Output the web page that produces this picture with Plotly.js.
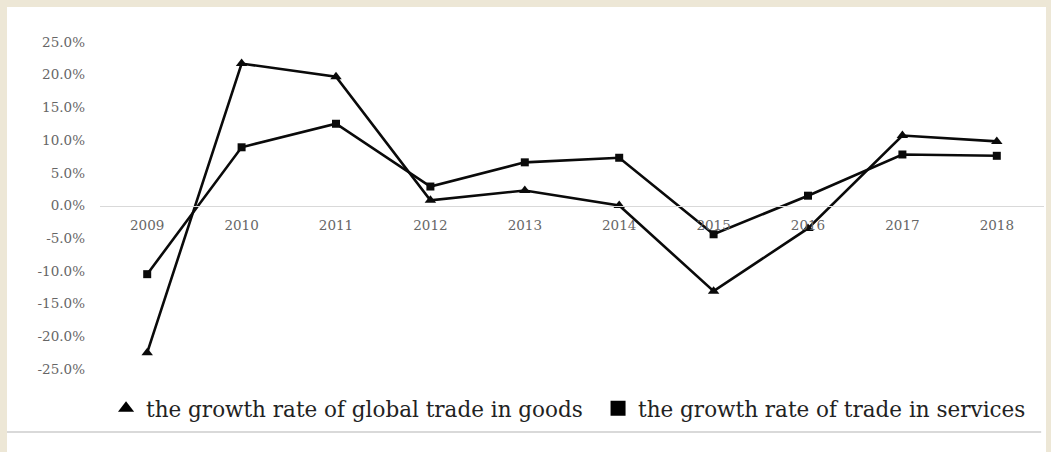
<!DOCTYPE html>
<html>
<head>
<meta charset="utf-8">
<script src="https://cdn.plot.ly/plotly-3.0.1.min.js"></script>
<style>
  html, body { margin: 0; padding: 0; background: #ede7d6; width: 1051px; height: 452px; overflow: hidden; }
  #chart { position: absolute; left: 7px; top: 7px; width: 1039px; height: 445px; background: #fff; }
</style>
</head>
<body>
<div id="chart"></div>
<script>
const years = ['2009','2010','2011','2012','2013','2014','2015','2016','2017','2018'];
const goodsGrowth = [-22.5, 21.7, 19.7, 0.8, 2.3, 0.0, -13.1, -3.5, 10.7, 9.8];
const servicesGrowth = [-10.5, 8.9, 12.5, 2.9, 6.6, 7.3, -4.4, 1.5, 7.8, 7.6];
const goodsName = 'the growth rate of global trade in goods';
const servicesName = 'the growth rate of trade in services';
const yTicks = [25, 20, 15, 10, 5, 0, -5, -10, -15, -20, -25];

const traces = [
  { x: years, y: goodsGrowth, mode: 'lines+markers', name: goodsName, showlegend: false,
    line: { color: '#0a0a0a', width: 2.6 }, marker: { symbol: 'triangle-up', size: 10, color: '#0a0a0a' } },
  { x: years, y: servicesGrowth, mode: 'lines+markers', name: servicesName, showlegend: false,
    line: { color: '#0a0a0a', width: 2.6 }, marker: { symbol: 'square', size: 8, color: '#0a0a0a' } },
  { x: [null], y: [null], mode: 'markers', name: goodsName, showlegend: true, legend: 'legend',
    marker: { symbol: 'triangle-up', size: 14, color: '#000' } },
  { x: [null], y: [null], mode: 'markers', name: servicesName, showlegend: true, legend: 'legend2',
    marker: { symbol: 'square', size: 15, color: '#000' } }
];

const tickFont = { family: 'DejaVu Serif, serif', size: 13.5, color: '#666' };
const legendFont = { family: 'DejaVu Serif, serif', size: 21.5, color: '#222' };

const layout = {
  width: 1039, height: 445,
  margin: { l: 93, r: 2, t: 35, b: 83 },
  paper_bgcolor: '#fff', plot_bgcolor: '#fff',
  showlegend: true,
  xaxis: {
    type: 'category', range: [-0.5, 9.5],
    anchor: 'free', position: 0.5,
    showline: true, linecolor: '#d9d9d9', linewidth: 1.5,
    showgrid: false, zeroline: false, ticks: '',
    ticklabelstandoff: 7,
    tickfont: tickFont
  },
  yaxis: {
    range: [-25, 25], tickvals: yTicks,
    ticktext: yTicks.map(v => v.toFixed(1) + '%'),
    showgrid: false, zeroline: false, showline: false, ticks: '',
    ticklabelstandoff: 14,
    tickfont: tickFont
  },
  legend: {
    orientation: 'h', x: 0.0064, xanchor: 'left', y: -0.12, yanchor: 'middle',
    font: legendFont, bgcolor: 'rgba(0,0,0,0)'
  },
  legend2: {
    orientation: 'h', x: 0.5276, xanchor: 'left', y: -0.12, yanchor: 'middle',
    font: legendFont, bgcolor: 'rgba(0,0,0,0)'
  },
  shapes: [
    { type: 'line', xref: 'paper', yref: 'paper', x0: -0.1, x1: 0.997, y0: -0.193, y1: -0.193,
      line: { color: '#d9d9d9', width: 2 } }
  ]
};

Plotly.newPlot('chart', traces, layout, { displayModeBar: false, staticPlot: true });
</script>
</body>
</html>
